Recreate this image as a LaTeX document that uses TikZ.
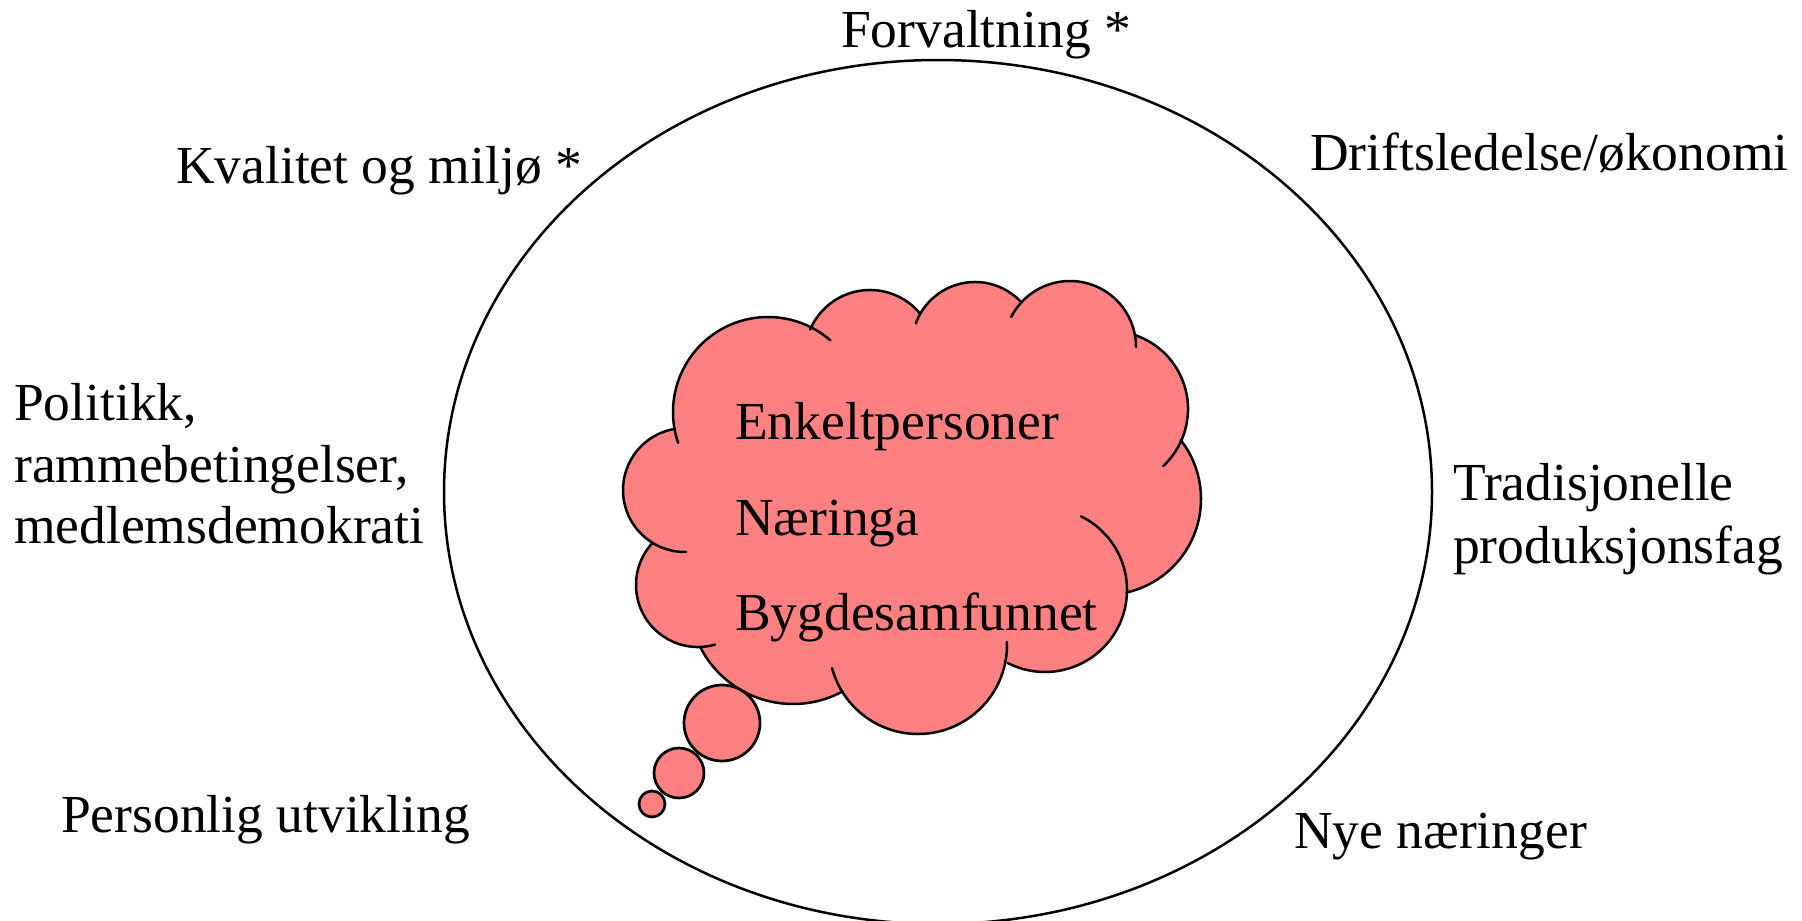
\documentclass[tikz,border=0pt]{standalone}
\usepackage{fontspec}
\setmainfont{Liberation Serif}
\definecolor{cloudpink}{RGB}{255,128,128}
% lobe of the cloud: centre x, centre y, radius
\newcommand\lobefill[3]{\fill[cloudpink] (#1,#2) circle[radius=#3];}
% outline of a lobe: centre x, centre y, radius, start angle, end angle
\newcommand\lobeline[5]{\draw[cloudline] (#1,#2) ++(#4:#3) arc[start angle=#4, end angle=#5, radius=#3];}
\begin{document}
\begin{tikzpicture}[x=1pt,y=-1pt,
  cloudline/.style={line width=2.5pt, line cap=round},
  lbl/.style={anchor=base west, inner sep=0pt, font=\fontsize{53.5}{62}\selectfont},
  bubble/.style={draw, line width=2.7pt, fill=cloudpink, circle, inner sep=0pt}]
\useasboundingbox (0,0) rectangle (1802,921);
\fill[white] (0,0) rectangle (1802,921);
% big ellipse
\draw[line width=2.5pt] (938,492) ellipse[x radius=494, y radius=432];
% cloud fill
\fill[cloudpink] (810,330) -- (921,312) -- (1021,302) -- (1135,335) -- (1181,440) -- (1125,593)
  -- (1008,663) -- (843,692) -- (700,648) -- (653,543) -- (675,430) -- cycle;
\lobefill{768}{412}{95}
\lobefill{870}{355}{65}
\lobefill{975}{345}{63}
\lobefill{1070}{347}{66}
\lobefill{1110}{409}{78}
\lobefill{1105}{499}{96}
\lobefill{1045}{590}{82}
\lobefill{918}{645}{89}
\lobefill{793}{600}{104}
\lobefill{698}{585}{62}
\lobefill{685}{490}{62}
% cloud outline with inner hooks
\lobeline{768}{412}{95}{161}{311}
\lobeline{870}{355}{65}{203}{320}
\lobeline{975}{345}{63}{200}{317}
\lobeline{1070}{347}{66}{207}{360}
\lobeline{1110}{409}{78}{289}{407}
\lobeline{1105}{499}{96}{-38}{77}
\lobeline{1045}{590}{82}{-64}{117}
\lobeline{918}{645}{89}{-2}{165}
\lobeline{793}{600}{104}{61.5}{153}
\lobeline{698}{585}{62}{74}{223}
\lobeline{685}{490}{62}{89}{260.5}
% thought bubbles
\node[bubble, minimum size=76pt] (b1) at (722,723) {};
\node[bubble, minimum size=50pt] (b2) at (679,773) {};
\node[bubble, minimum size=26pt] (b3) at (652,804) {};
% texts in the cloud
\node[lbl] (t1) at (735,439) {Enkeltpersoner};
\node[lbl] (t2) at (735,535) {Næringa};
\node[lbl] (t3) at (735,630) {Bygdesamfunnet};
% surrounding labels
\node[lbl] (forv) at (841,47) {Forvaltning *};
\node[lbl] (kval) at (176,183) {Kvalitet og miljø *};
\node[lbl] (drift) at (1310,170) {Driftsledelse/økonomi};
\node[lbl] (pol1) at (14,420) {Politikk,};
\node[lbl] (pol2) at (14,482) {rammebetingelser,};
\node[lbl] (pol3) at (14,543) {medlemsdemokrati};
\node[lbl] (trad1) at (1453,500) {Tradisjonelle};
\node[lbl] (trad2) at (1453,563) {produksjonsfag};
\node[lbl] (pers) at (61,832) {Personlig utvikling};
\node[lbl] (nye) at (1294,848) {Nye næringer};
\end{tikzpicture}
\end{document}
